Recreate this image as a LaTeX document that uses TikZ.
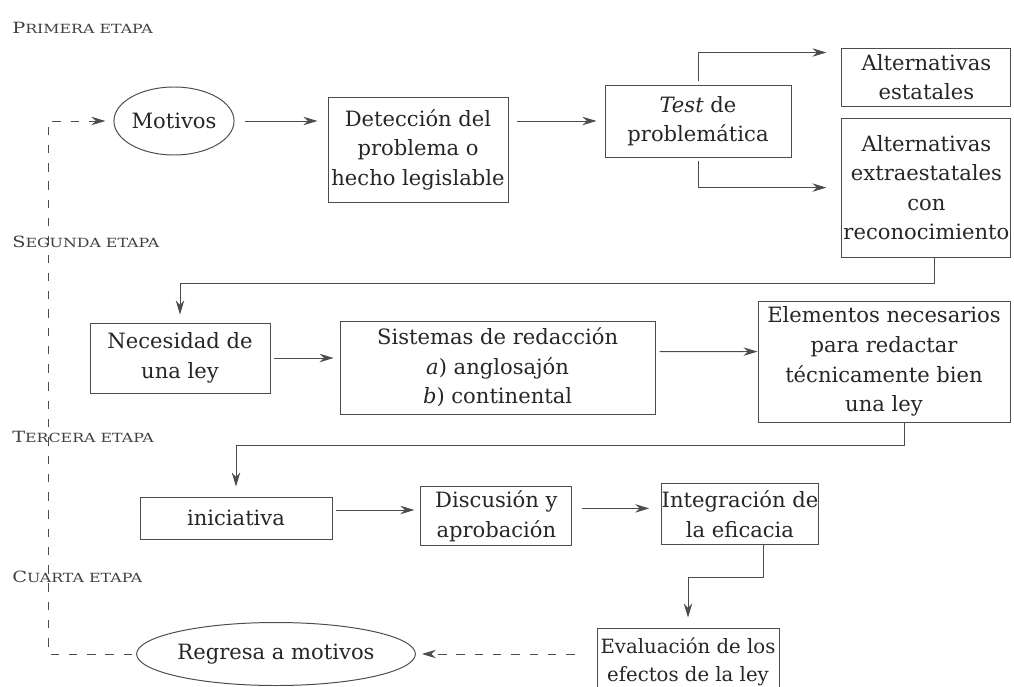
\documentclass[tikz,border=0pt]{standalone}
\usepackage{fontspec}
\usepackage{graphicx}
\usepackage{tikz}
\usetikzlibrary{arrows.meta,shapes.geometric}
\setmainfont{DejaVu Serif}
\newcommand{\etapa}[2]{\scalebox{1.25}[1]{\fontsize{11}{13}\selectfont #1\fontsize{9}{13}\selectfont\MakeUppercase{#2}}}

\begin{document}
\begin{tikzpicture}[
    every node/.style={font=\fontsize{15}{21}\selectfont, text=black!85},
    caja/.style={draw=black!70, line width=0.7pt, align=center, inner sep=0pt},
    elipse/.style={draw=black!70, line width=0.7pt, ellipse, inner sep=0pt},
    etapa/.style={anchor=west, inner sep=0pt, text=black!75},
    flecha/.style={draw=black!70, line width=0.7pt, -{Stealth[length=10pt,width=6pt]}, shorten >=1.5mm, shorten <=1mm},
    guion/.style={flecha, dash pattern=on 6pt off 7pt}
  ]
      \useasboundingbox (0,0) rectangle (25.35,-17.15);
      \node[etapa] (e1) at (0.3,-0.7) {\etapa{P}{rimera etapa}};
      \node[etapa] (e2) at (0.3,-6.05) {\etapa{S}{egunda etapa}};
      \node[etapa] (e3) at (0.3,-10.925) {\etapa{T}{ercera etapa}};
      \node[etapa] (e4) at (0.3,-14.425) {\etapa{C}{uarta etapa}};
      \node[elipse, minimum width=2.8cm, minimum height=1.7cm] (motivos) at (4.35,-3.025) {Motivos};
      \node[caja, minimum width=4.5cm, minimum height=2.625cm] (deteccion) at (10.45,-3.74) {Detección del\\problema o\\hecho legislable};
      \node[caja, minimum width=4.65cm, minimum height=1.8cm] (test) at (17.45,-3.025) {\textit{Test} de\\problemática};
      \node[caja, minimum width=4.225cm, minimum height=1.45cm] (estatales) at (23.16,-1.925) {Alternativas\\estatales};
      \node[caja, minimum width=4.225cm, minimum height=3.475cm] (extra) at (23.16,-4.69) {Alternativas\\extraestatales\\con\\reconocimiento};
      \node[caja, minimum width=4.5cm, minimum height=1.75cm] (necesidad) at (4.5,-8.95) {Necesidad de\\una ley};
      \node[caja, minimum width=7.875cm, minimum height=2.325cm] (sistemas) at (12.44,-9.19) {Sistemas de redacción\\\textit{a}) anglosajón\\\textit{b}) continental};
      \node[caja, minimum width=6.3cm, minimum height=3.025cm] (elementos) at (22.1,-9.04) {Elementos necesarios\\para redactar\\técnicamente bien\\una ley};
      \node[caja, minimum width=4.8cm, minimum height=1.05cm] (iniciativa) at (5.9,-12.95) {iniciativa};
      \node[caja, minimum width=3.775cm, minimum height=1.475cm] (discusion) at (12.41,-12.91) {Discusión y\\aprobación};
      \node[caja, minimum width=3.9cm, minimum height=1.525cm] (integracion) at (18.5,-12.86) {Integración de\\la eficacia};
      \node[caja, minimum width=4.55cm, minimum height=1.7cm, font=\fontsize{14}{20}\selectfont] (evaluacion) at (17.2,-16.55) {Evaluación de los\\efectos de la ley};
      \node[elipse, minimum width=6.125cm, minimum height=1.575cm] (regresa) at (6.9,-16.35) {Regresa a motivos};
      \coordinate (abajo) at (1.2,-16.35);
      \coordinate (arriba) at (1.2,-3.025);
      % primera etapa
      \draw[flecha, shorten <=2.5mm, shorten >=2.5mm] (motivos) -- (motivos -| deteccion.west);
      \draw[flecha, shorten <=2.2mm, shorten >=2mm] (test -| deteccion.east) -- (test);
      \draw[flecha, shorten >=3.75mm] (test.north) |- ([yshift=-1.25mm]estatales.north west);
      \draw[flecha, shorten >=3.75mm] (test.south) |- (extra);
      % segunda etapa
      \draw[flecha, shorten <=0pt, shorten >=2mm] ([xshift=2mm]extra.south) -- ++(0,-0.65) -| (necesidad);
      \draw[flecha] (necesidad) -- (necesidad -| sistemas.west);
      \draw[flecha, shorten >=0pt] ([yshift=4mm]sistemas.east) -- ([yshift=2.5mm]elementos.west);
      % tercera etapa
      \draw[flecha, shorten <=0pt, shorten >=2.5mm] ([xshift=5mm]elementos.south) -- ++(0,-0.575) -| (iniciativa);
      \draw[flecha] ([yshift=2mm]iniciativa.east) -- ([yshift=2mm]iniciativa.east -| discusion.west);
      \draw[flecha, shorten <=2.5mm, shorten >=3mm] ([yshift=2mm]discusion.east) -- ([yshift=2mm]discusion.east -| integracion.west);
      \draw[flecha, shorten <=0pt, shorten >=2.5mm] ([xshift=5.75mm]integracion.south) -- ++(0,-0.8) -| (evaluacion);
      % cuarta etapa
      \draw[guion, shorten <=5.5mm] (regresa -| evaluacion.west) -- (regresa);
      \draw[guion, shorten >=2mm] (regresa) -- (abajo) -- (arriba) -- (motivos);
    \end{tikzpicture}
\end{document}
